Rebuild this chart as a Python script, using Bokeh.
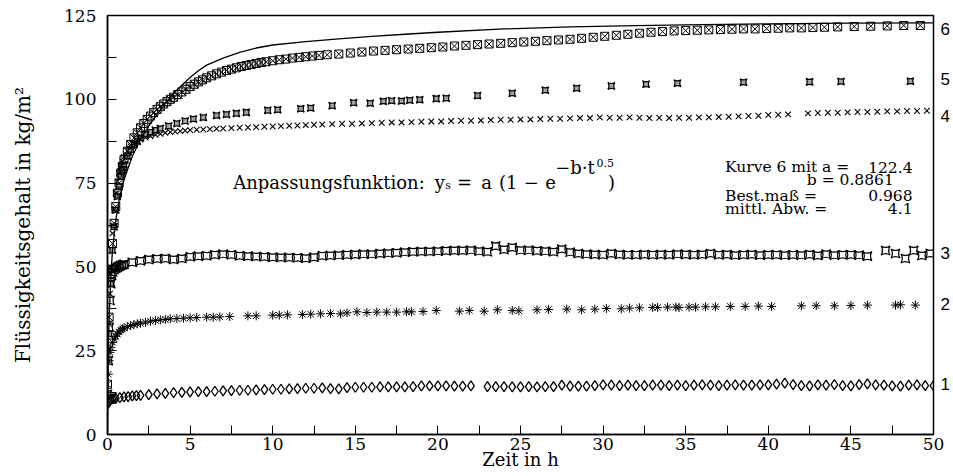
from bokeh.plotting import figure
from bokeh.models import FixedTicker, Label, Range1d, LinearAxis
from bokeh.embed import file_html
from bokeh.resources import INLINE

# ---------------- data ----------------
x_ticks = [0, 5, 10, 15, 20, 25, 30, 35, 40, 45, 50]
x_minor = [2.5, 7.5, 12.5, 17.5, 22.5, 27.5, 32.5, 37.5, 42.5, 47.5]
y_ticks = [0, 25, 50, 75, 100, 125]
y_minor = [12.5, 37.5, 62.5, 87.5, 112.5]

# fitted curve (Kurve 6 fit)
fit_t = [0, 0.05, 0.1, 0.2, 0.3, 0.5, 0.75, 1, 1.5, 2, 2.5, 3, 3.5, 4, 4.5, 5, 5.5, 6, 7, 8,
         9, 10, 12, 14, 16, 18, 20, 24, 28, 32, 36, 40, 45, 50]
fit_y = [0, 25, 35, 47, 55, 64, 71, 76, 83, 88, 92, 95.5, 98.8, 101.8, 104.2, 106.5, 108.5, 110.2, 112.3, 114,
         115.3, 116.2, 117.2, 118, 118.8, 119.4, 120, 121, 121.6, 122, 122.3, 122.5, 122.7, 122.8]

# curve 6
c6_t = [0.0, 0.1, 0.2, 0.3, 0.4, 0.5, 0.6, 0.7, 0.8, 0.9,
        1.0, 1.2, 1.4, 1.6, 1.8, 2.0, 2.2, 2.4, 2.6, 2.8, 3.0, 3.2, 3.4, 3.6, 3.8,
        4.0, 4.25, 4.5, 4.75, 5.0, 5.25, 5.5, 5.75, 6.0,
        6.3, 6.6, 6.9, 7.2, 7.5, 7.8, 8.1, 8.4, 8.7, 9.0, 9.3, 9.6,
        10.0, 10.4, 10.8, 11.2, 11.6, 12.0, 12.4, 12.8, 13.3,
        14.0, 14.7, 15.4, 16.1, 16.8, 17.5, 18.2, 18.9, 19.6, 20.3, 21.0, 21.7, 22.4, 23.1, 23.8,
        24.5, 25.2, 25.9, 26.6, 27.3, 28.0, 28.7, 29.4, 30.1, 30.8, 31.5, 32.2, 32.9, 33.6, 34.3, 35.0,
        35.7, 36.4, 37.1, 37.8, 38.5, 39.2, 39.9, 40.6, 41.3, 42.0, 42.7, 43.4,
        44.2, 45.2, 46.2, 47.2, 48.2, 49.2]
c6_y = [15, 35, 48, 57, 63, 68, 72, 75, 78, 80,
        82, 84.5, 86.5, 88.5, 90, 91.5, 92.8, 94, 95, 96, 97, 97.8, 98.6, 99.3, 100,
        100.6, 101.4, 102.2, 103, 103.8, 104.5, 105.2, 105.8, 106.4,
        107, 107.6, 108.1, 108.6, 109, 109.4, 109.8, 110.1, 110.4, 110.7, 111, 111.2,
        111.5, 111.8, 112, 112.3, 112.5, 112.7, 112.9, 113.1, 113.3,
        113.5, 113.8, 114.1, 114.4, 114.6, 114.8, 115, 115.2, 115.4, 115.6, 115.9, 116.1, 116.3, 116.5, 116.7,
        116.9, 117.1, 117.3, 117.5, 117.7, 117.9, 118.2, 118.5, 118.8, 119.1, 119.4, 119.7, 120, 120.2, 120.4, 120.5,
        120.6, 120.7, 120.8, 120.9, 121, 121, 121.1, 121.2, 121.3, 121.3, 121.4, 121.5,
        121.6, 121.7, 121.8, 121.9, 122, 122]

# curve 5
c5_t = [0.1, 0.2, 0.3, 0.4, 0.5, 0.6, 0.7, 0.8, 0.9, 1.0, 1.2, 1.4, 1.6, 1.8, 2.0, 2.3, 2.6, 2.9,
        3.2, 3.7, 4.2, 4.7, 5.2, 5.8, 6.6, 7.2, 7.8, 8.4, 9.7, 10.3, 11.7, 12.3,
        13.6, 14.9, 15.9, 16.7, 17.2, 17.8, 18.3, 18.9, 19.9, 20.5,
        22.4, 24.5, 26.5, 28.4, 30.5, 32.6, 34.5, 38.5, 42.5, 44.4, 48.6]
c5_y = [30, 45, 55, 62, 67, 71, 74, 77, 79, 80.5, 83, 85, 86.5, 87.5, 88.5, 89.5, 90.2, 90.8,
        91.3, 92, 92.8, 93.5, 94.1, 94.6, 95.2, 95.5, 95.8, 96.1, 96.7, 96.9, 97.2, 97.4,
        98.1, 99.0, 98.8, 99.4, 99.6, 99.5, 99.7, 99.9, 100.2, 100.3,
        101.1, 101.8, 102.7, 103.3, 104.0, 104.5, 104.8, 105.1, 105.2, 105.3, 105.4]

# curve 4
c4_t = [0.05, 0.1, 0.15, 0.2, 0.3, 0.4, 0.5, 0.6, 0.7, 0.8, 0.9, 1.0, 1.2, 1.4, 1.6, 1.8, 2.0,
        2.3, 2.6, 2.9, 3.2, 3.5, 3.8, 4.1, 4.4, 4.7, 5.0, 5.4, 5.8, 6.2, 6.6, 7.0,
        7.5, 8.0, 8.5, 9.0, 9.5, 10.0, 10.5, 11.0, 11.5, 12.0, 12.5, 13.0,
        13.6, 14.2, 14.8, 15.4, 16.0, 16.6, 17.2, 17.8, 18.4, 19.0, 19.6, 20.2, 20.8, 21.4, 22.0,
        22.6, 23.2, 23.8, 24.4, 25.0, 25.6, 26.2, 26.8, 27.4, 28.0, 28.6, 29.2, 29.8, 30.4, 31.0,
        31.6, 32.2, 32.8, 33.4, 34.0, 34.6, 35.2, 35.8, 36.4, 37.0, 37.6, 38.2, 38.8, 39.4, 40.0,
        40.6, 41.2, 42.4, 43.0, 43.6, 44.2, 44.8, 45.4, 46.0, 46.6, 47.2, 47.8, 48.4, 49.0, 49.6]
c4_y = [25, 33, 42, 50, 60, 67, 72, 75.5, 78, 80, 81.5, 82.8, 84.6, 85.9, 86.8, 87.5, 88.0,
        88.6, 89.0, 89.4, 89.7, 90.0, 90.2, 90.4, 90.5, 90.7, 90.8, 90.9, 91.0, 91.1, 91.2, 91.3,
        91.4, 91.5, 91.6, 91.7, 91.8, 91.9, 92.0, 92.1, 92.2, 92.3, 92.4, 92.5,
        92.6, 92.7, 92.7, 92.8, 92.9, 93.0, 93.1, 93.1, 93.2, 93.3, 93.4, 93.4, 93.5, 93.6, 93.6,
        93.7, 93.8, 93.9, 93.9, 94.0, 94.0, 94.1, 94.2, 94.2, 94.3, 94.4, 94.4, 94.6, 94.5, 94.5,
        94.6, 94.5, 94.4, 94.5, 94.4, 94.5, 94.5, 94.6, 94.6, 94.7, 94.8, 94.9, 95.0, 95.1, 95.3,
        95.4, 95.5, 95.8, 95.9, 96.0, 96.0, 96.1, 96.2, 96.2, 96.3, 96.4, 96.4, 96.5, 96.5, 96.6]

# curve 3
c3_t = [0.0, 0.05, 0.1, 0.15, 0.2, 0.25, 0.3, 0.4, 0.5, 0.6, 0.7, 0.8, 0.9,
        1.0, 1.5, 2.0, 2.5, 3.0, 3.5, 4.0, 4.5, 5.0, 5.5, 6.0, 6.5, 7.0, 7.5, 8.0, 8.5, 9.0, 9.5,
        10.0, 10.5, 11.0, 11.5, 12.0, 12.5, 13.0, 13.5, 14.0, 14.5, 15.0, 15.5, 16.0, 16.5, 17.0,
        17.5, 18.0, 18.5, 19.0, 19.5, 20.0, 20.5, 21.0, 21.5, 22.0, 22.5, 23.0, 23.5, 24.0, 24.5,
        25.0, 25.5, 26.0, 26.5, 27.0, 27.5, 28.0, 28.5, 29.0, 29.5, 30.0, 30.5, 31.0, 31.5, 32.0,
        32.5, 33.0, 33.5, 34.0, 34.5, 35.0, 35.5, 36.0, 36.5, 37.0, 37.5, 38.0, 38.5, 39.0, 39.5,
        40.0, 40.5, 41.0, 41.5, 42.0, 42.5, 43.0, 43.5, 44.0, 44.5, 45.0, 45.5, 46.0,
        47.1, 47.7, 48.3, 48.8, 49.3, 49.8]
c3_y = [12, 22, 32, 40, 45, 47.5, 48.5, 49.2, 49.6, 49.9, 50.2, 50.4, 50.6,
        50.8, 51.4, 51.8, 52.2, 52.4, 52.5, 52.2, 52.5, 53.0, 53.2,
        53.3, 53.6, 53.8, 53.6, 53.3, 53.2, 53.1, 53.0, 52.9, 52.8,
        52.8, 52.7, 52.6, 52.9, 53.3, 53.4, 53.5, 53.6, 53.7, 53.8,
        53.8, 54.0, 54.1, 54.2, 54.4, 54.5, 54.6, 54.6, 54.7, 54.8,
        54.9, 54.9, 55.0, 54.7, 54.5, 56.2, 55.2, 55.8, 55.0, 55.0,
        54.8, 54.7, 54.5, 55.3, 54.4, 54.0, 53.8, 53.7, 53.6, 54.0,
        53.7, 53.6, 53.6, 53.7, 53.6, 53.7, 53.6, 53.8, 53.7, 53.6,
        53.7, 54.0, 53.6, 53.7, 53.5, 53.6, 53.7, 53.5, 53.6, 53.6,
        53.5, 53.6, 53.5, 53.7, 53.4, 53.8, 53.5, 53.6, 53.6, 53.5,
        53.2,
        54.9, 54.0, 52.5, 54.9, 53.4, 54.0]

# curve 2
c2_t = [0.0, 0.05, 0.1, 0.15, 0.2, 0.3, 0.4, 0.5, 0.6, 0.7, 0.8, 0.9, 1.0, 1.2, 1.4, 1.6, 1.8, 2.0,
        2.3, 2.6, 2.9, 3.2, 3.5, 3.8, 4.2, 4.6, 5.0, 5.4, 6.0, 6.4, 6.8, 7.4,
        8.5, 9.0, 10.0, 10.4, 10.9, 11.8, 12.3, 12.9,
        13.5, 14.1, 14.5, 15.1, 15.7, 16.3, 16.9, 17.5, 18.1, 18.4,
        19.1, 19.9, 21.3, 21.9, 22.8, 23.6, 24.5, 24.9, 26.0, 26.7,
        27.8, 28.7, 29.5, 30.2, 31.1, 31.6, 32.2, 33.0, 33.3, 33.9,
        34.4, 34.6, 35.2, 35.6, 36.2, 36.8, 37.7, 38.6, 39.4, 40.2,
        42.0, 42.9, 44.0, 45.0, 46.0, 47.7, 48.0, 48.9]
c2_y = [12, 18, 22, 24.5, 26, 27.5, 28.5, 29.3, 30, 30.6, 31.1, 31.5, 31.8, 32.2, 32.5, 32.8, 33, 33.2,
        33.5, 33.8, 34, 34.2, 34.3, 34.5, 34.6, 34.7, 34.8, 34.9, 35.0, 35.0, 35.1, 35.2,
        35.4, 35.4, 35.6, 35.6, 35.7, 35.8, 35.9, 36.0,
        36.1, 36.0, 36.3, 36.6, 36.4, 36.5, 36.5, 36.5, 36.6, 36.6,
        36.7, 37.0, 36.8, 37.0, 36.8, 37.2, 37.0, 36.9, 37.2, 37.3,
        37.4, 37.2, 37.4, 37.6, 37.5, 37.7, 37.8, 37.9, 37.9, 38.0,
        38.0, 37.9, 38.0, 38.0, 38.1, 38.1, 38.2, 38.2, 38.3, 38.2,
        38.4, 38.4, 38.4, 38.5, 38.6, 38.6, 38.7, 38.6]

# curve 1
c1_t = [0.0, 0.1, 0.2, 0.3, 0.4, 0.5, 0.75, 1.0, 1.25, 1.5, 1.75,
        2.0, 2.5, 3.0, 3.5, 4.0, 4.5, 5.0, 5.5, 6.0, 6.5, 7.0, 7.5, 8.0, 8.5, 9.0, 9.5, 10.0, 10.5,
        11.0, 11.5, 12.0, 12.5, 13.0, 13.5, 14.0, 14.5, 15.0, 15.5, 16.0, 16.5, 17.0, 17.5, 18.0,
        18.5, 19.0, 19.5, 20.0, 20.5, 21.0, 21.5, 22.0,
        23.0, 23.5, 24.0, 24.5, 25.0, 25.5, 26.0, 26.5, 27.0, 27.5, 28.0, 28.5, 29.0, 29.5, 30.0,
        30.5, 31.0, 31.5, 32.0, 32.5, 33.0, 33.5, 34.0, 34.5, 35.0, 35.5, 36.0, 36.5, 37.0, 37.5,
        38.0, 38.5, 39.0, 39.5, 40.0, 40.5, 41.0, 41.5, 42.0, 42.5, 43.0, 43.5, 44.0, 44.5, 45.0,
        45.5, 46.0, 46.5, 47.0, 47.5, 48.0, 48.5, 49.0, 49.5, 50.0]
c1_y = [9, 10, 10.4, 10.6, 10.7, 10.8, 11, 11.2, 11.3, 11.5, 11.6,
        11.7, 11.9, 12.1, 12.3, 12.5, 12.6, 12.7, 12.8, 12.8, 12.9,
        13.0, 13.1, 13.2, 13.2, 13.3, 13.4, 13.5, 13.5, 13.6, 13.7,
        13.8, 13.8, 13.9, 13.7, 13.6, 14.0, 14.1, 14.1, 14.1, 14.2,
        14.2, 14.2, 14.2, 14.3, 14.5, 14.5, 14.5, 14.5, 14.4, 14.4,
        14.5,
        14.3, 14.3, 14.3, 14.2, 14.2, 14.3, 14.2, 14.3, 14.3, 14.7,
        14.4, 14.4, 14.4, 14.6, 14.8, 14.7, 14.6, 14.7, 14.6, 14.6,
        14.7, 14.7, 14.6, 14.7, 14.6, 14.7, 14.8, 14.7, 14.6, 14.7,
        14.8, 14.7, 14.7, 14.8, 14.8, 15.0, 15.3, 14.9, 14.6, 14.5,
        14.8, 14.7, 14.9, 14.6, 14.5, 14.9, 15.1, 14.8, 14.7, 14.5,
        14.4, 14.7, 14.8, 14.6, 14.6]

# curve number labels at the right edge (value where each number sits)
curve_names = ["1", "2", "3", "4", "5", "6"]
curve_label_y = [15, 39, 54, 95, 106, 121]

SERIF = "DejaVu Serif"

# ---------------- figure ----------------
p = figure(width=952, height=475, output_backend="svg", toolbar_location=None,
           x_range=Range1d(0, 50), y_range=Range1d(0, 125),
           min_border_left=107, min_border_right=17, min_border_top=15, min_border_bottom=41)
p.grid.visible = False
p.outline_line_color = "black"
p.outline_line_width = 1.5
p.background_fill_color = "white"
p.border_fill_color = "white"

xa = p.xaxis[0]
xa.ticker = FixedTicker(ticks=x_ticks, minor_ticks=x_minor)
ya = p.yaxis[0]
ya.ticker = FixedTicker(ticks=y_ticks, minor_ticks=y_minor)
for ax in (xa, ya):
    ax.major_tick_in = 9
    ax.major_tick_out = 0
    ax.minor_tick_in = 9
    ax.minor_tick_out = 0
    ax.axis_line_width = 1.5
    ax.axis_line_color = "black"
    ax.major_tick_line_color = "black"
    ax.minor_tick_line_color = "black"
    ax.major_label_text_font = SERIF
    ax.major_label_text_font_size = "17px"
    ax.major_label_text_color = "black"
xa.major_label_standoff = 3
xa.axis_label = "Zeit in h"
xa.axis_label_text_font = SERIF
xa.axis_label_text_font_size = "18px"
xa.axis_label_text_font_style = "normal"
xa.axis_label_text_color = "black"
xa.axis_label_standoff = -4

ya.major_label_standoff = 11
ya.axis_label = "Flüssigkeitsgehalt in kg/m²"
ya.axis_label_text_font = SERIF
ya.axis_label_text_font_size = "20px"
ya.axis_label_text_font_style = "normal"
ya.axis_label_text_color = "black"
ya.axis_label_standoff = 26

# right axis carrying the curve numbers
ra = LinearAxis(ticker=FixedTicker(ticks=curve_label_y),
                major_label_overrides={v: n for v, n in zip(curve_label_y, curve_names)})
ra.axis_line_color = None
ra.major_tick_line_color = None
ra.minor_tick_line_color = None
ra.major_tick_in = 0
ra.major_tick_out = 0
ra.major_label_standoff = 7
ra.major_label_text_font = "Liberation Sans"
ra.major_label_text_font_size = "17px"
ra.major_label_text_color = "black"
p.add_layout(ra, "right")

# data
def pairs(a, b):
    n = min(len(a), len(b))
    return list(a[:n]), list(b[:n])

t, y = pairs(c1_t, c1_y)
p.scatter(t, y, marker="diamond", size=10, line_color="black", fill_alpha=0, line_width=1.3)
t, y = pairs(c2_t, c2_y)
p.scatter(t, y, marker="asterisk", size=9, line_color="black", line_width=1)
t, y = pairs(c3_t, c3_y)
p.scatter(t, y, marker="square_pin", size=9, line_color="black", fill_alpha=0, line_width=1.2)
t, y = pairs(c4_t, c4_y)
p.scatter(t, y, marker="x", size=8, line_color="black", line_width=1.1)
t, y = pairs(c5_t, c5_y)
p.scatter(t, y, marker="square_pin", size=7, line_color="black", fill_color="black",
          fill_alpha=0.35, line_width=1.2)
t, y = pairs(c6_t, c6_y)
p.scatter(t, y, marker="square_x", size=8, line_color="black", fill_alpha=0, line_width=1)
t, y = pairs(fit_t, fit_y)
p.line(t, y, line_color="black", line_width=1.3)


def lab(x, y, s, size="18px", align="left"):
    p.add_layout(Label(x=x, y=y, text=s, text_align=align, text_baseline="alphabetic",
                       text_font=SERIF, text_font_size=size, text_color="black"))

# fit formula
lab(7.61, 75.2, "Anpassungsfunktion:")
lab(19.81, 75.2, "y")
lab(20.45, 74.2, "s", size="11px")
lab(21.15, 75.2, "=")
lab(22.62, 75.2, "a")
lab(23.7, 75.2, "(1")
lab(25.2, 75.2, "−")
lab(26.5, 75.2, "e")
lab(27.1, 79.6, "−b·t")
lab(29.6, 81.1, "0.5", size="11px")
lab(30.3, 75.2, ")")

# fit parameters
FS = "15.5px"
lab(37.38, 79.75, "Kurve 6 mit a =", size=FS)
lab(48.73, 79.75, "122.4", size=FS, align="right")
lab(42.33, 75.8, "b = 0.8861", size=FS)
lab(37.38, 71.3, "Best.maß =", size=FS)
lab(48.73, 71.3, "0.968", size=FS, align="right")
lab(37.38, 67.4, "mittl. Abw. =", size=FS)
lab(48.73, 67.4, "4.1", size=FS, align="right")

open("out.html", "w").write(file_html(p, INLINE))
